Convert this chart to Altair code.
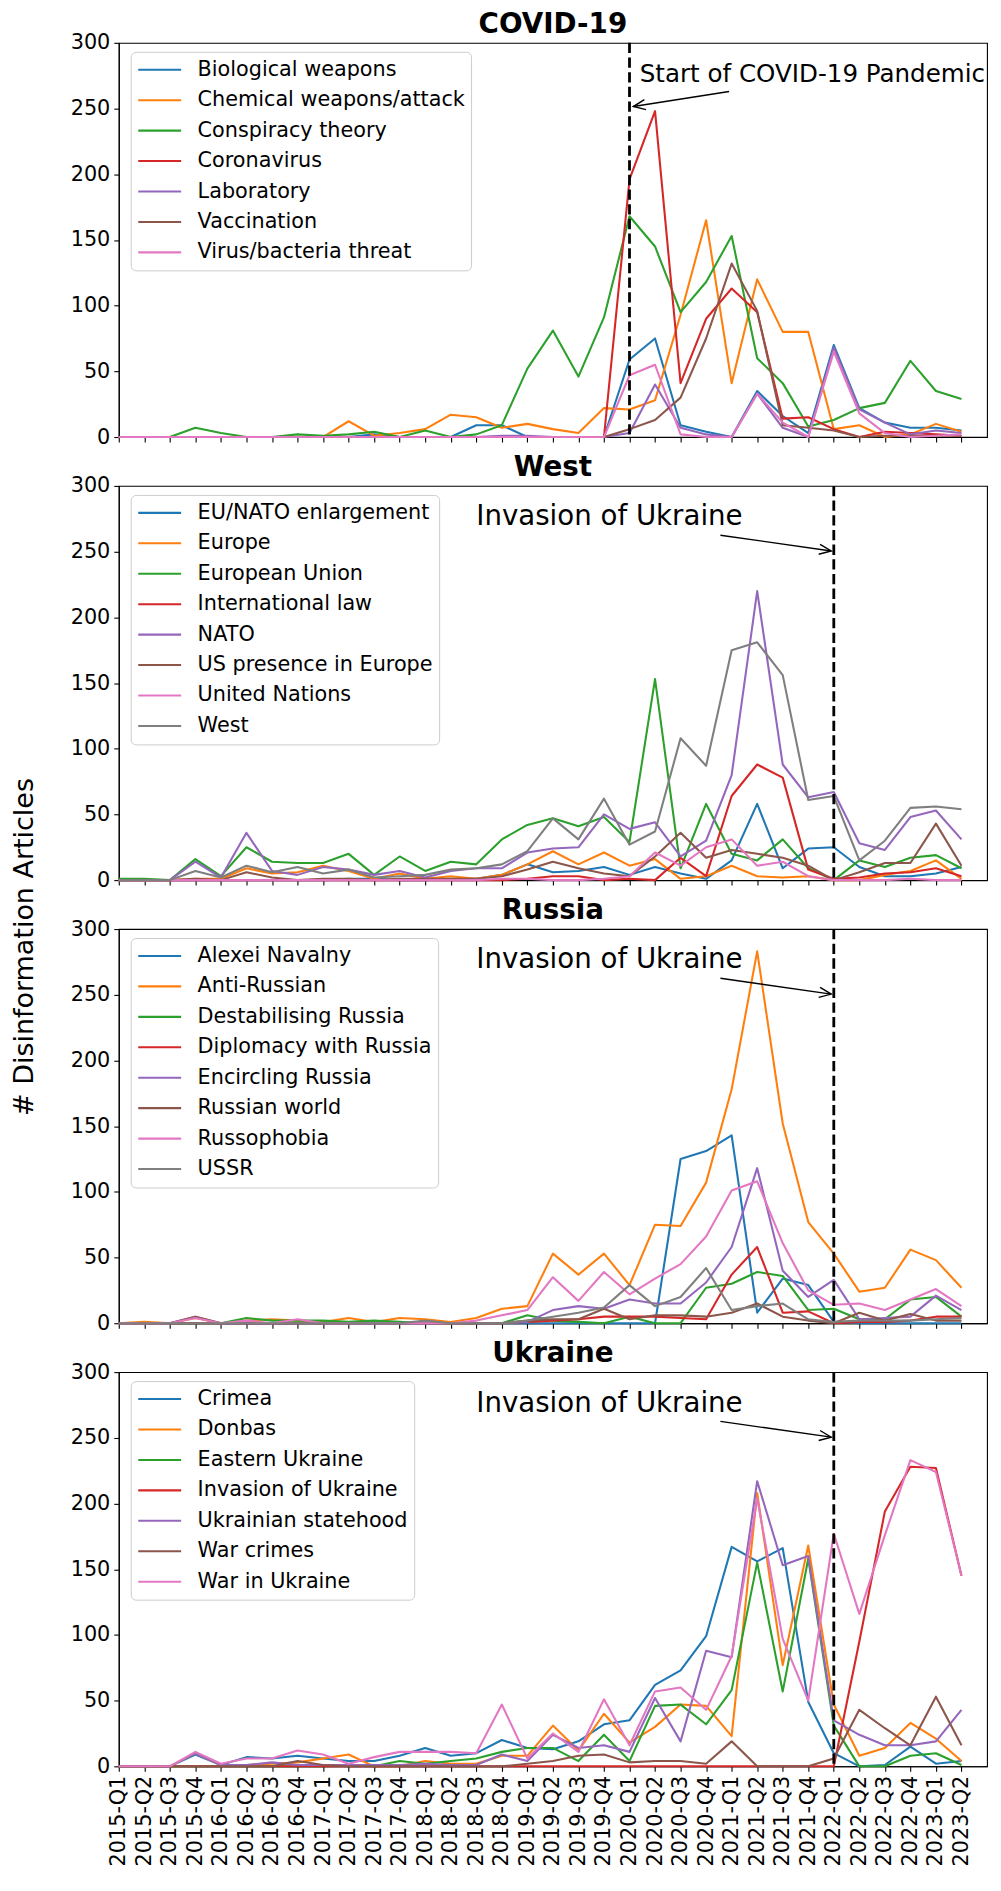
import math
import altair as alt
import pandas as pd

quarters = ["2015-Q1", "2015-Q2", "2015-Q3", "2015-Q4", "2016-Q1", "2016-Q2", "2016-Q3", "2016-Q4",
            "2017-Q1", "2017-Q2", "2017-Q3", "2017-Q4", "2018-Q1", "2018-Q2", "2018-Q3", "2018-Q4",
            "2019-Q1", "2019-Q2", "2019-Q3", "2019-Q4", "2020-Q1", "2020-Q2", "2020-Q3", "2020-Q4",
            "2021-Q1", "2021-Q2", "2021-Q3", "2021-Q4", "2022-Q1", "2022-Q2", "2022-Q3", "2022-Q4",
            "2023-Q1", "2023-Q2"]

tab10 = ["#1f77b4", "#ff7f0e", "#2ca02c", "#d62728", "#9467bd", "#8c564b", "#e377c2", "#7f7f7f"]

# ---- COVID-19 ----
covid_biological = [0, 0, 0, 0, 0, 0, 0, 0, 0, 0, 2, 0, 0, 0, 9, 9, 0, 0, 0, 0, 59, 75, 9, 4, 0, 35, 16, 3, 70, 22, 11, 7, 7, 5]
covid_chemical = [0, 0, 0, 0, 0, 0, 0, 0, 0, 12, 1, 3, 6, 17, 15, 7, 10, 6, 3, 22, 21, 28, 93, 165, 41, 120, 80, 80, 6, 9, 0, 2, 10, 4]
covid_conspiracy = [0, 0, 0, 7, 3, 0, 0, 2, 1, 2, 4, 0, 5, 0, 2, 9, 52, 81, 46, 91, 168, 145, 95, 118, 153, 60, 41, 8, 13, 22, 26, 58, 35, 29]
covid_coronavirus = [0, 0, 0, 0, 0, 0, 0, 0, 0, 0, 0, 0, 0, 0, 0, 0, 0, 0, 0, 0, 196, 248, 41, 90, 113, 95, 14, 15, 6, 0, 4, 3, 2, 1]
covid_laboratory = [0, 0, 0, 0, 0, 0, 0, 0, 0, 0, 0, 0, 0, 0, 0, 1, 1, 0, 0, 0, 3, 40, 7, 2, 0, 33, 7, 0, 68, 21, 11, 2, 5, 3]
covid_vaccination = [0, 0, 0, 0, 0, 0, 0, 0, 0, 0, 0, 0, 0, 0, 0, 0, 0, 0, 0, 0, 6, 13, 30, 75, 132, 96, 9, 7, 5, 0, 1, 1, 1, 1]
covid_virus = [0, 0, 0, 0, 0, 0, 0, 0, 0, 0, 0, 0, 0, 0, 0, 0, 0, 0, 0, 0, 47, 55, 2, 0, 0, 33, 11, 0, 65, 18, 3, 0, 1, 2]

# ---- West ----
west_enlargement = [0, 0, 0, 0, 0, 0, 0, 0, 0, 1, 1, 0, 0, 1, 1, 4, 12, 6, 7, 10, 4, 10, 5, 1, 15, 58, 9, 24, 25, 10, 3, 3, 5, 10]
west_europe = [0, 0, 0, 1, 1, 9, 5, 6, 11, 7, 1, 5, 1, 3, 1, 4, 12, 22, 12, 21, 11, 16, 1, 3, 11, 3, 2, 3, 0, 0, 4, 7, 15, 1]
west_eu = [1, 1, 0, 16, 3, 25, 14, 13, 13, 20, 4, 18, 7, 14, 12, 31, 42, 47, 41, 48, 29, 153, 9, 58, 20, 15, 31, 9, 0, 15, 10, 17, 19, 9]
west_intlaw = [0, 0, 0, 0, 0, 0, 0, 0, 0, 0, 0, 0, 0, 0, 0, 0, 1, 3, 3, 0, 1, 0, 17, 3, 64, 88, 78, 8, 1, 2, 5, 6, 9, 3]
west_nato = [0, 0, 0, 14, 2, 36, 7, 4, 10, 8, 4, 7, 2, 7, 9, 9, 21, 24, 25, 50, 39, 44, 18, 30, 80, 220, 88, 63, 67, 28, 23, 48, 53, 31]
west_us = [0, 0, 0, 1, 0, 6, 2, 0, 1, 1, 0, 1, 1, 1, 1, 3, 8, 14, 9, 5, 3, 18, 36, 17, 23, 20, 17, 11, 0, 6, 13, 13, 43, 11]
west_un = [0, 0, 0, 0, 0, 0, 0, 0, 0, 0, 0, 0, 0, 0, 0, 1, 1, 0, 0, 1, 3, 21, 11, 25, 31, 11, 14, 3, 0, 0, 0, 1, 0, 0]
west_west = [0, 0, 0, 7, 2, 11, 6, 10, 5, 8, 2, 3, 4, 8, 9, 12, 22, 47, 31, 62, 27, 37, 108, 87, 175, 181, 156, 61, 64, 15, 30, 55, 56, 54]

# ---- Russia ----
rus_navalny = [0, 0, 0, 0, 0, 0, 0, 0, 0, 0, 0, 0, 0, 0, 0, 0, 0, 0, 0, 0, 0, 0, 125, 131, 143, 8, 34, 29, 1, 0, 0, 0, 0, 0]
rus_anti = [0, 1, 0, 4, 0, 2, 3, 2, 1, 4, 1, 4, 3, 1, 4, 11, 13, 53, 37, 53, 29, 75, 74, 107, 178, 283, 152, 77, 53, 24, 27, 56, 48, 27]
rus_destab = [0, 0, 0, 0, 0, 4, 2, 2, 2, 1, 2, 1, 0, 0, 0, 0, 6, 2, 1, 0, 5, 0, 0, 27, 30, 39, 36, 10, 11, 3, 3, 18, 20, 5]
rus_diplomacy = [0, 0, 0, 0, 0, 0, 0, 0, 0, 0, 0, 0, 0, 0, 0, 0, 1, 2, 3, 5, 5, 5, 4, 3, 37, 58, 8, 9, 0, 1, 1, 2, 5, 5]
rus_encircling = [0, 0, 0, 5, 0, 0, 0, 0, 0, 0, 0, 0, 0, 0, 0, 0, 1, 10, 13, 11, 18, 15, 15, 31, 58, 118, 40, 20, 33, 3, 4, 5, 21, 10]
rus_world = [0, 0, 0, 5, 0, 0, 0, 0, 0, 0, 0, 0, 0, 0, 0, 0, 2, 3, 3, 11, 3, 6, 6, 5, 8, 15, 5, 2, 0, 8, 2, 7, 2, 2]
rus_phobia = [0, 0, 0, 4, 0, 2, 0, 3, 0, 0, 0, 0, 0, 0, 2, 6, 10, 35, 17, 39, 22, 34, 45, 66, 101, 108, 61, 25, 14, 15, 10, 18, 26, 13]
rus_ussr = [0, 0, 0, 0, 0, 0, 0, 0, 0, 0, 0, 0, 2, 0, 0, 0, 2, 5, 8, 12, 29, 13, 20, 42, 10, 13, 15, 3, 1, 2, 2, 2, 3, 4]

# ---- Ukraine ----
ukr_crimea = [0, 0, 0, 9, 1, 7, 6, 8, 6, 4, 4, 8, 14, 8, 10, 20, 14, 13, 19, 32, 35, 62, 73, 99, 167, 156, 166, 49, 10, 0, 1, 15, 2, 4]
ukr_donbas = [0, 0, 0, 10, 1, 1, 2, 3, 6, 9, 0, 0, 4, 2, 2, 8, 8, 31, 12, 40, 18, 30, 47, 46, 23, 208, 77, 168, 47, 8, 14, 33, 21, 4]
ukr_eastern = [0, 0, 0, 0, 0, 0, 0, 0, 0, 1, 0, 4, 2, 4, 6, 11, 14, 14, 4, 24, 4, 46, 47, 32, 58, 155, 57, 158, 31, 0, 0, 8, 10, 1]
ukr_invasion = [0, 0, 0, 0, 0, 0, 0, 0, 0, 0, 0, 0, 0, 0, 0, 0, 0, 0, 0, 0, 0, 0, 0, 0, 0, 0, 0, 0, 0, 95, 194, 228, 227, 145]
ukr_statehood = [0, 0, 0, 10, 1, 1, 3, 1, 1, 1, 1, 1, 2, 1, 1, 9, 4, 24, 14, 16, 11, 52, 19, 88, 83, 217, 153, 160, 35, 24, 16, 16, 19, 43]
ukr_warcrimes = [0, 0, 0, 0, 0, 0, 0, 4, 1, 0, 0, 0, 0, 0, 0, 0, 2, 4, 8, 9, 3, 4, 4, 2, 19, 0, 0, 0, 6, 43, 29, 16, 53, 16]
ukr_war = [0, 0, 0, 11, 2, 6, 6, 12, 9, 2, 7, 11, 11, 11, 10, 47, 6, 25, 11, 51, 16, 57, 60, 43, 84, 204, 97, 50, 177, 116, 176, 233, 224, 145]

panel_titles = ["COVID-19", "West", "Russia", "Ukraine"]
covid_names = ["Biological weapons", "Chemical weapons/attack", "Conspiracy theory", "Coronavirus",
               "Laboratory", "Vaccination", "Virus/bacteria threat"]
west_names = ["EU/NATO enlargement", "Europe", "European Union", "International law", "NATO",
              "US presence in Europe", "United Nations", "West"]
rus_names = ["Alexei Navalny", "Anti-Russian", "Destabilising Russia", "Diplomacy with Russia",
             "Encircling Russia", "Russian world", "Russophobia", "USSR"]
ukr_names = ["Crimea", "Donbas", "Eastern Ukraine", "Invasion of Ukraine", "Ukrainian statehood",
             "War crimes", "War in Ukraine"]

# annotations (data units): event quarter index, text anchor, arrow tail, arrow head
covid_event = 20
covid_label = "Start of COVID-19 Pandemic"
covid_text_xy = [20.4, 270]
covid_tail = [23.9, 263]
covid_head = [20.15, 251.5]
invasion_event = 28
invasion_label = "Invasion of Ukraine"
invasion_text_xy = [14.0, 270]
invasion_tail = [23.56, 262.5]
invasion_head = [27.9, 250.5]

y_ticks = [0, 50, 100, 150, 200, 250, 300]
y_title = "# Disinformation Articles"
X_MAX = 34
Y_MAX = 300
W, H = 870, 395
GAP = 49
FONT = "DejaVu Sans"
TICK_FS = 20.8

label_expr = "[" + ",".join("'%s'" % q for q in quarters) + "][datum.value]"


def long_df(names, series):
    rows = []
    for name, vals in zip(names, series):
        for i, v in enumerate(vals):
            rows.append({"q": i, "v": v, "series": name})
    return pd.DataFrame(rows)


def panel(title, names, series, event_q, label, text_xy, tail, head, label_fs, show_xlabels, ytitle):
    df = long_df(names, series)
    xs = alt.Scale(domain=[0, X_MAX], nice=False, zero=False)
    ys = alt.Scale(domain=[0, Y_MAX], nice=False, zero=True)
    if show_xlabels:
        xaxis = alt.Axis(values=list(range(len(quarters))), labelExpr=label_expr, labelAngle=270,
                         labelFontSize=TICK_FS, labelPadding=4, labelOverlap=False, labelFlush=False,
                         tickSize=5, title=None)
    else:
        xaxis = alt.Axis(values=list(range(len(quarters))), labels=False, tickSize=5, title=None)
    yargs = dict(values=y_ticks, tickSize=5, labelFontSize=TICK_FS, labelPadding=4)
    if ytitle:
        # shared figure-level y label, centred on the whole figure (placed from the 2nd panel)
        yargs.update(title=y_title, titleX=-94, titleY=H + GAP / 2 + 42, titleAngle=270,
                     titleAlign="center", titleBaseline="middle", titleFontSize=27,
                     titleFontWeight="normal")
    else:
        yargs["title"] = None
    yaxis = alt.Axis(**yargs)

    def X(field):
        return alt.X(field, scale=xs, axis=xaxis)

    def Y(field):
        return alt.Y(field, scale=ys, axis=yaxis)

    lines = alt.Chart(df).mark_line(strokeWidth=2.08, strokeJoin="round").encode(
        x=X("q:Q"),
        y=Y("v:Q"),
        color=alt.Color("series:N", sort=names,
                        scale=alt.Scale(domain=names, range=tab10[:len(names)]),
                        legend=alt.Legend(title=None, orient="none", legendX=12, legendY=9,
                                          labelFontSize=TICK_FS, labelFont=FONT, labelColor="black",
                                          symbolType="stroke", symbolSize=1849, symbolStrokeWidth=2.08,
                                          labelOffset=15, clipHeight=24, rowPadding=6.5, padding=6,
                                          fillColor="rgba(255,255,255,0.8)", strokeColor="#cccccc",
                                          cornerRadius=5, labelLimit=600)),
    )
    ev = alt.Chart(pd.DataFrame({"q": [event_q]})).mark_rule(
        color="black", strokeWidth=2.8, strokeDash=[10.3, 4.4]
    ).encode(x=X("q:Q"))

    arrow_df = pd.DataFrame({"q": [tail[0]], "v": [tail[1]], "q2": [head[0]], "v2": [head[1]]})
    shaft = alt.Chart(arrow_df).mark_rule(color="black", strokeWidth=1.4).encode(
        x=X("q:Q"), x2="q2:Q", y=Y("v:Q"), y2="v2:Q")
    dx = (head[0] - tail[0]) * W / X_MAX
    dy = -(head[1] - tail[1]) * H / Y_MAX
    ang = math.degrees(math.atan2(dy, dx)) % 360
    head_df = pd.DataFrame({"q": [head[0]], "v": [head[1]]})
    arrowhead = alt.Chart(head_df).mark_point(
        shape="M-1,-0.42L0,0L-1,0.42", filled=False, size=576, angle=ang,
        color="black", strokeWidth=1.4, opacity=1
    ).encode(x=X("q:Q"), y=Y("v:Q"))

    txt_df = pd.DataFrame({"q": [text_xy[0]], "v": [text_xy[1]], "t": [label]})
    txt = alt.Chart(txt_df).mark_text(
        align="left", baseline="alphabetic", fontSize=label_fs, font=FONT, color="black"
    ).encode(x=X("q:Q"), y=Y("v:Q"), text="t:N")

    return alt.layer(lines, ev, shaft, arrowhead, txt).properties(
        width=W, height=H,
        title=alt.TitleParams(text=title, fontSize=27.8, fontWeight="bold", font=FONT,
                              anchor="middle", offset=-29, baseline="alphabetic", color="black"),
    )


p1 = panel(panel_titles[0], covid_names,
           [covid_biological, covid_chemical, covid_conspiracy, covid_coronavirus,
            covid_laboratory, covid_vaccination, covid_virus],
           covid_event, covid_label, covid_text_xy, covid_tail, covid_head, 24.6, False, False)
p2 = panel(panel_titles[1], west_names,
           [west_enlargement, west_europe, west_eu, west_intlaw, west_nato, west_us, west_un, west_west],
           invasion_event, invasion_label, invasion_text_xy, invasion_tail, invasion_head, 27.7, False, True)
p3 = panel(panel_titles[2], rus_names,
           [rus_navalny, rus_anti, rus_destab, rus_diplomacy, rus_encircling, rus_world, rus_phobia, rus_ussr],
           invasion_event, invasion_label, invasion_text_xy, invasion_tail, invasion_head, 27.7, False, False)
p4 = panel(panel_titles[3], ukr_names,
           [ukr_crimea, ukr_donbas, ukr_eastern, ukr_invasion, ukr_statehood, ukr_warcrimes, ukr_war],
           invasion_event, invasion_label, invasion_text_xy, invasion_tail, invasion_head, 27.7, True, False)

chart = alt.vconcat(p1, p2, p3, p4, spacing=GAP, bounds="flush").resolve_scale(
    color="independent"
).resolve_legend(color="independent").properties(
    padding={"left": 2, "top": 0, "right": 5, "bottom": 5}
).configure_axis(
    domainColor="black", tickColor="black", labelColor="black", titleColor="black",
    labelFont=FONT, titleFont=FONT, grid=False, domainWidth=1.1, tickWidth=1.1
).configure_view(stroke="black", strokeWidth=1.1).configure_legend(labelFont=FONT)

chart.save("out.html", embed_options={"renderer": "svg", "actions": False})
